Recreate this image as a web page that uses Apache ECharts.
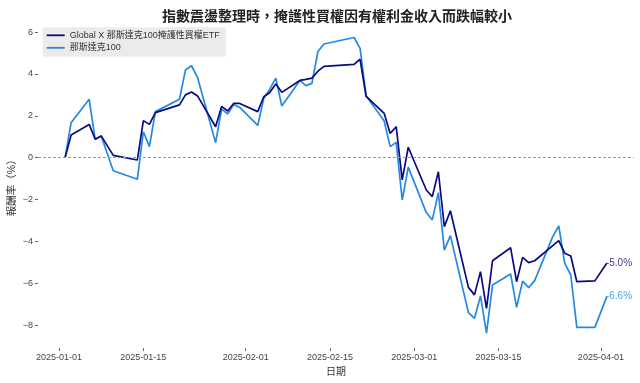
<!DOCTYPE html>
<html>
<head>
<meta charset="utf-8">
<script src="https://cdn.jsdelivr.net/npm/echarts@6/dist/echarts.min.js"></script>
<style>html,body{margin:0;padding:0;background:#fff;}#c{width:640px;height:383px;}</style>
</head>
<body>
<div id="c"></div>
<script>
const dates = ['2025-01-02','2025-01-03','2025-01-06','2025-01-07','2025-01-08','2025-01-10','2025-01-14','2025-01-15','2025-01-16','2025-01-17','2025-01-21','2025-01-22','2025-01-23','2025-01-24','2025-01-27','2025-01-28','2025-01-29','2025-01-30','2025-01-31','2025-02-03','2025-02-04','2025-02-05','2025-02-06','2025-02-07','2025-02-10','2025-02-11','2025-02-12','2025-02-13','2025-02-14','2025-02-19','2025-02-20','2025-02-21','2025-02-24','2025-02-25','2025-02-26','2025-02-27','2025-02-28','2025-03-03','2025-03-04','2025-03-05','2025-03-06','2025-03-07','2025-03-10','2025-03-11','2025-03-12','2025-03-13','2025-03-14','2025-03-17','2025-03-18','2025-03-19','2025-03-20','2025-03-21','2025-03-24','2025-03-25','2025-03-26','2025-03-27','2025-03-28','2025-03-31','2025-04-02'];
const etfValues = [0,1.08,1.59,0.88,1.04,0.11,-0.11,1.77,1.59,2.15,2.52,3.0,3.14,2.95,1.48,2.45,2.23,2.59,2.59,2.2,2.91,3.11,3.52,3.12,3.69,3.74,3.8,4.13,4.36,4.46,4.7,2.93,2.12,1.16,1.48,-1.06,0.5,-1.54,-1.86,-0.67,-3.29,-2.53,-6.19,-6.55,-5.44,-7.19,-4.92,-4.3,-5.92,-4.76,-5.01,-4.92,-4.2,-3.96,-4.56,-4.69,-5.92,-5.88,-5.03];
const ndxValues = [0,1.67,2.79,0.88,1.04,-0.62,-1.03,1.24,0.53,2.2,2.79,4.19,4.39,3.83,0.72,2.32,2.09,2.54,2.4,1.54,2.83,3.27,3.8,2.47,3.69,3.44,3.55,5.07,5.43,5.74,5.22,2.96,1.75,0.53,0.73,-2.02,-0.45,-2.62,-2.97,-1.67,-4.41,-3.72,-7.4,-7.67,-6.6,-8.38,-6.08,-5.55,-7.14,-5.89,-6.2,-5.87,-3.77,-3.26,-5.04,-5.6,-8.1,-8.1,-6.62];
const seriesNames = ['Global X 那斯達克100掩護性買權ETF','那斯達克100'];
const xTickLabels = ['2025-01-01','2025-01-15','2025-02-01','2025-02-15','2025-03-01','2025-03-15','2025-04-01'];
const yTicks = [-8,-6,-4,-2,0,2,4,6];

const base = Date.UTC(2025,0,1);
const dayOf = s => { const p = s.split('-').map(Number); return (Date.UTC(p[0],p[1]-1,p[2]) - base) / 86400000; };
const xDays = dates.map(dayOf);
const xTickDays = xTickLabels.map(dayOf);
const labelByDay = {}; xTickDays.forEach((d,i)=>labelByDay[d]=xTickLabels[i]);

const FONT = "'Liberation Sans','Noto Sans CJK TC',sans-serif";
const fmtNeg = v => v < 0 ? '\u2212' + Math.abs(v) : String(v);

const chart = echarts.init(document.getElementById('c'), null, {renderer:'canvas'});
chart.setOption({
  animation: false,
  textStyle: {fontFamily: FONT},
  title: {
    text: '指數震盪整理時，掩護性買權因有權利金收入而跌幅較小',
    left: 157, top: 5,
    textStyle: {fontSize: 14, fontWeight: 'bold', color: '#222', fontFamily: FONT}
  },
  legend: {
    orient: 'vertical', left: 42.7, top: 27.3,
    backgroundColor: '#ebebeb', borderRadius: 3,
    padding: [3, 6, 4, 4], itemGap: 2.5,
    icon: 'rect', itemWidth: 18, itemHeight: 1.8,
    textStyle: {fontSize: 9, color: '#333', fontFamily: FONT, lineHeight: 10},
    data: seriesNames
  },
  grid: {left: 38, right: 6, top: 22.4, bottom: 34.9, containLabel: false, outerBoundsMode: 'none'},
  xAxis: {
    type: 'value', min: -3.5, max: 95.5,
    name: '日期', nameLocation: 'middle', nameGap: 17,
    nameTextStyle: {fontSize: 10, color: '#333'},
    axisLine: {show: false, onZero: false},
    splitLine: {show: false},
    axisTick: {show: true, length: 3, lineStyle: {color: '#666'}, customValues: xTickDays},
    axisLabel: {color: '#444', fontSize: 9, margin: 5, customValues: xTickDays, formatter: v => labelByDay[v] || ''}
  },
  yAxis: {
    type: 'value', min: -9.09, max: 6.46,
    name: '報酬率（%）', nameLocation: 'middle', nameGap: 20.5, nameMoveOverlap: false,
    nameTextStyle: {fontSize: 10.5, color: '#333'},
    axisLine: {show: false, onZero: false},
    splitLine: {show: false},
    axisTick: {show: true, length: 3, lineStyle: {color: '#666'}, customValues: yTicks},
    axisLabel: {color: '#444', fontSize: 9, margin: 5, customValues: yTicks, formatter: fmtNeg}
  },
  series: [
    {
      name: seriesNames[0], type: 'line', symbol: 'none',
      data: xDays.map((d,i)=>[d, etfValues[i]]),
      lineStyle: {color: '#0a0a82', width: 1.7},
      itemStyle: {color: '#0a0a82'},
      z: 3,
      endLabel: {show: true, distance: -1, color: '#40408f', fontSize: 10,
        formatter: p => p.value[1].toFixed(1) + '%'},
      markLine: {
        silent: true, symbol: 'none', label: {show: false},
        lineStyle: {type: [3, 2], color: '#999', width: 1},
        data: [{yAxis: 0}]
      }
    },
    {
      name: seriesNames[1], type: 'line', symbol: 'none',
      data: xDays.map((d,i)=>[d, ndxValues[i]]),
      lineStyle: {color: '#2489e2', width: 1.7},
      itemStyle: {color: '#2489e2'},
      z: 2,
      endLabel: {show: true, distance: -1, color: '#4f9fec', fontSize: 10,
        formatter: p => p.value[1].toFixed(1) + '%'}
    }
  ]
});
</script>
</body>
</html>
